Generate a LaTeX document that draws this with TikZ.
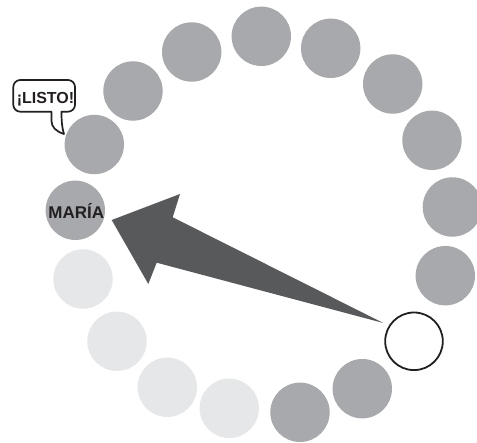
\documentclass[tikz,border=0pt]{standalone}
\usepackage{fontspec}
\setmainfont{Liberation Sans}
\usetikzlibrary{calc}
\definecolor{midgray}{HTML}{A7A9AC}
\definecolor{lightgray}{HTML}{E6E7E8}
\definecolor{arrowgray}{HTML}{58595B}
\definecolor{textblack}{HTML}{231F20}
\tikzset{
  dot/.style={circle, inner sep=0pt, minimum size=59.4pt, fill=midgray},
  lightdot/.style={dot, fill=lightgray},
  whitedot/.style={circle, inner sep=0pt, minimum size=57.6pt, fill=white, draw=textblack, line width=1.8pt},
  label text/.style={font=\bfseries, text=textblack, inner sep=0pt},
}
\begin{document}
\begin{tikzpicture}[x=1pt, y=-1pt]
\useasboundingbox (0,0) rectangle (477,443);
% ring of circles
\node[dot] (maria) at (75.3,210.3) {};
\node[dot] (p1) at (94.3,144.5) {};
\node[dot] (p2) at (133,91) {};
\node[dot] (p3) at (191.7,52) {};
\node[dot] (p4) at (261.3,36.3) {};
\node[dot] (p5) at (330.7,48.3) {};
\node[dot] (p6) at (392.7,84) {};
\node[dot] (p7) at (432,140.3) {};
\node[dot] (p8) at (452.4,207) {};
\node[dot] (p9) at (445.3,275.7) {};
\node[whitedot] (me) at (414,341.3) {};
\node[dot] (d2) at (362.3,388.7) {};
\node[dot] (d1) at (300,412.3) {};
\node[lightdot] (l4) at (229.3,408.3) {};
\node[lightdot] (l3) at (167.3,387.3) {};
\node[lightdot] (l2) at (117,341.3) {};
\node[lightdot] (l1) at (83,279) {};
\node[label text, font=\bfseries\fontsize{17}{17}\selectfont, anchor=base] (mariatext) at (76.2,218.3) {MARÍA};
% big arrow from the white circle to MARÍA
\coordinate (tip) at ($(maria)+(36.4,9.7)$);
\coordinate (tail) at ($(me)+(-30.7,-18.3)$);
\fill[arrowgray] (tip) -- (180,194) -- (172.7,217.3) -- (tail) -- (156.7,262.7) -- (148.3,284) -- cycle;
% speech bubble
\draw[fill=white, draw=textblack, line width=1.7pt, line join=round]
  (61.5,111.7) [rounded corners=7] -- (75,111.7) -- (75,80) -- (13.3,80) -- (13.3,111.7) [sharp corners] -- (51.5,111.7)
  -- (51.5,121) .. controls (51.5,127) and (56,131.5) .. (64,134)
  .. controls (62,128) and (61.5,121) .. (61.5,111.7) -- cycle;
\node[label text, font=\bfseries\fontsize{16}{16}\selectfont, anchor=base] (listo) at (45.5,103.3) {¡LISTO!};
\end{tikzpicture}
\end{document}
